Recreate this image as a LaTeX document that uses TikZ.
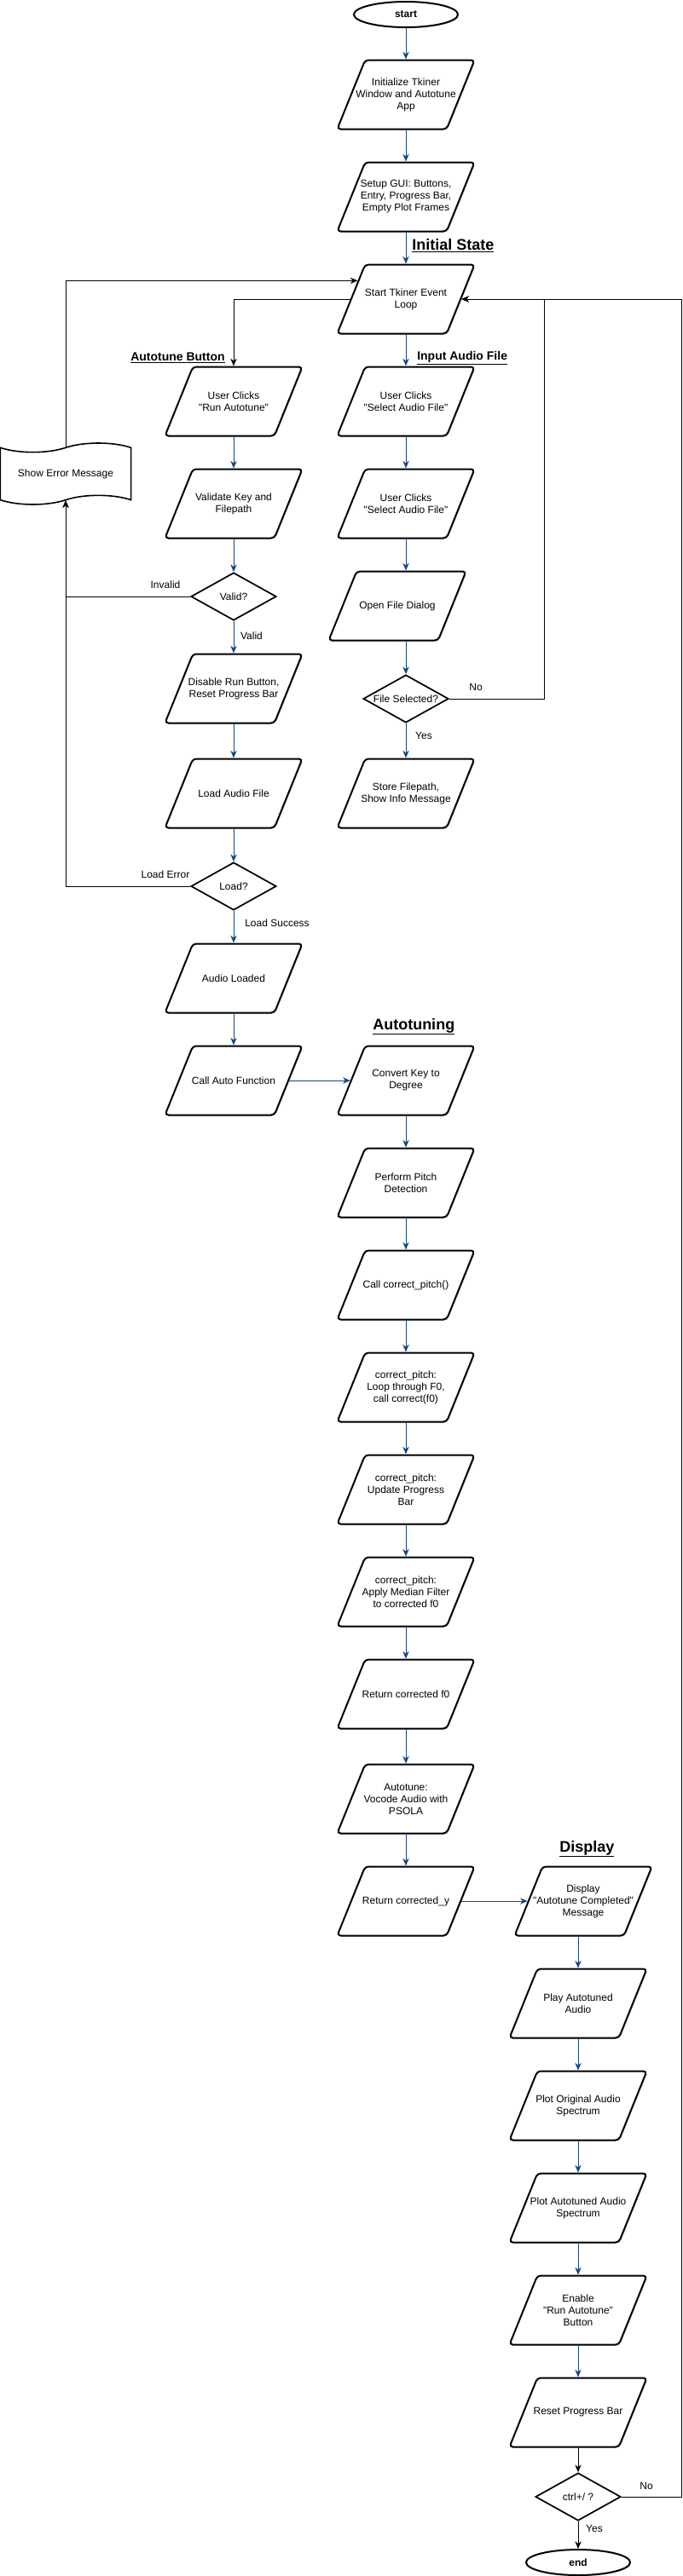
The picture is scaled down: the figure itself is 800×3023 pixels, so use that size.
\documentclass[tikz,border=0pt]{standalone}
\usepackage{fontspec}
\setmainfont{Liberation Sans}
\usepackage{tikz}
\usetikzlibrary{arrows,arrows.meta,shapes,positioning,shadows}
\usepackage{xcolor}
\definecolor{flowblue}{RGB}{22,72,128}
\tikzstyle{io} = [trapezium, trapezium left angle=68, trapezium right angle=112, draw, line width=1.5pt, rounded corners=3pt, fill=white, inner xsep=35.85pt, inner ysep=0pt, font=\fontsize{9}{10.5}\selectfont, drop shadow={shadow xshift=1pt, shadow yshift=-1pt, opacity=0.25}]
\tikzstyle{decision} = [diamond, draw, line width=1.3pt, fill=white, minimum width=75pt, minimum height=42pt, inner sep=0pt, font=\fontsize{9}{10.5}\selectfont]
\tikzstyle{terminal} = [ellipse, draw, line width=1.5pt, fill=white, minimum width=91.5pt, minimum height=22.5pt, inner sep=0pt, font=\bfseries\fontsize{9}{10.5}\selectfont, drop shadow={shadow xshift=1pt, shadow yshift=-1pt, opacity=0.25}]
\tikzstyle{errmsg} = [tape, draw, line width=1.2pt, fill=white, minimum width=115pt, minimum height=54pt, tape bend height=8pt, font=\fontsize{9}{10.5}\selectfont]
\tikzstyle{arrow} = [line width=0.75pt,->,>={Stealth[length=6.5pt,width=5.5pt,inset=2pt]},color=flowblue]
\tikzstyle{plain} = [line width=0.75pt,->,>={Stealth[length=6.5pt,width=5.5pt,inset=2pt]},color=black]
\tikzstyle{lbl} = [font=\fontsize{9}{10.5}\selectfont]
\tikzstyle{bighead} = [anchor=base west, inner sep=0pt, font=\bfseries\fontsize{13.5}{16}\selectfont]
\tikzstyle{smallhead} = [anchor=base west, inner sep=0pt, font=\bfseries\fontsize{10.5}{12.5}\selectfont]
\newcommand{\dtext}[1]{\makebox[0pt]{#1}}
\newcommand{\iotext}[1]{\makebox[0pt]{\parbox[c][60.75pt][c]{130pt}{\centering #1}}}
\newcommand{\qq}[1]{\textquotedbl#1\textquotedbl}

\begin{document}
\begin{tikzpicture}[x=0.75pt, y=-0.75pt]
\useasboundingbox (0,0) rectangle (800,3023);

% Initial state
\node[terminal] (start) at (476,17) {start};
\node[io] (init) at (476,111) {\iotext{Initialize Tkiner\\Window and Autotune\\App}};
\node[io] (setup) at (476,231) {\iotext{Setup GUI: Buttons,\\Entry, Progress Bar,\\Empty Plot Frames}};
\node[bighead] (hinit) at (483,293) {\underline{Initial State}};
\node[io] (loop) at (476,351) {\iotext{Start Tkiner Event\\Loop}};
\draw[arrow] (start.south) -- (init.north);
\draw[arrow] (init.south) -- (setup.north);
\draw[arrow] (setup.south) -- (loop.north);

% Autotune button
\node[smallhead] (hbtn) at (153,423) {\underline{Autotune Button}};
\node[io] (runat) at (274,471) {\iotext{User Clicks\\\qq{Run Autotune}}};
\node[io] (validate) at (274,591) {\iotext{Validate Key and\\Filepath}};
\node[decision] (valid) at (274,700) {\dtext{Valid?}};
\node[io] (disable) at (274,808) {\iotext{Disable Run Button,\\Reset Progress Bar}};
\node[io] (loadfile) at (274,931) {\iotext{Load Audio File}};
\node[decision] (load) at (274,1040) {\dtext{Load?}};
\node[io] (loaded) at (274,1148) {\iotext{Audio Loaded}};
\node[io] (callauto) at (274,1268) {\iotext{Call Auto Function}};
\draw[plain] (loop.west) -| (runat.north);
\draw[arrow] (runat.south) -- (validate.north);
\draw[arrow] (validate.south) -- (valid.north);
\draw[arrow] (valid.south) -- (disable.north);
\draw[arrow] (disable.south) -- (loadfile.north);
\draw[arrow] (loadfile.south) -- (load.north);
\draw[arrow] (load.south) -- (loaded.north);
\draw[arrow] (loaded.south) -- (callauto.north);
\node[lbl] (tvalid) at (295,746) {Valid};
\node[lbl] (tinvalid) at (194,686) {Invalid};
\node[lbl] (tloaderr) at (194,1026) {Load Error};
\node[lbl] (tloadok) at (325,1083) {Load Success};

% Error message
\node[errmsg] (err) at (77,556) {Show Error Message};
\draw[plain] (valid.west) -| (err.south);
\draw[plain] (load.west) -| (err.south);
\draw[plain] (err.north) |- (loop.159);

% Input audio file
\node[smallhead] (hfile) at (489,422) {\underline{Input Audio File}};
\node[io] (selA) at (476,471) {\iotext{User Clicks\\\qq{Select Audio File}}};
\node[io] (selB) at (476,591) {\iotext{User Clicks\\\qq{Select Audio File}}};
\node[io] (openfd) at (466,711) {\iotext{Open File Dialog}};
\node[decision] (filesel) at (476,820) {\dtext{File Selected?}};
\node[io] (store) at (476,931) {\iotext{Store Filepath,\\Show Info Message}};
\draw[arrow] (loop.south) -- (selA.north);
\draw[arrow] (selA.south) -- (selB.north);
\draw[arrow] (selB.south) -- (selB.south |- openfd.north);
\draw[arrow] (openfd.south -| filesel.north) -- (filesel.north);
\draw[arrow] (filesel.south) -- (store.north);
\draw[plain] (filesel.east) -- ++(112,0) |- (loop.east);
\node[lbl] (tno) at (558,806) {No};
\node[lbl] (tyes) at (497,863) {Yes};

% Autotuning
\node[bighead] (htune) at (437,1208) {\underline{Autotuning}};
\node[io] (convert) at (476,1268) {\iotext{Convert Key to\\Degree}};
\node[io] (pitch) at (476,1388) {\iotext{Perform Pitch\\Detection}};
\node[io] (callcp) at (476,1508) {\iotext{Call correct\_pitch()}};
\node[io] (cploop) at (476,1628) {\iotext{correct\_pitch:\\Loop through F0,\\call correct(f0)}};
\node[io] (cpbar) at (476,1748) {\iotext{correct\_pitch:\\Update Progress\\Bar}};
\node[io] (cpmed) at (476,1868) {\iotext{correct\_pitch:\\Apply Median Filter\\to corrected f0}};
\node[io] (retf0) at (476,1988) {\iotext{Return corrected f0}};
\node[io] (vocode) at (476,2111) {\iotext{Autotune:\\Vocode Audio with\\PSOLA}};
\node[io] (rety) at (476,2231) {\iotext{Return corrected\_y}};
\draw[arrow] (callauto.east) -- (convert.west);
\draw[arrow] (convert.south) -- (pitch.north);
\draw[arrow] (pitch.south) -- (callcp.north);
\draw[arrow] (callcp.south) -- (cploop.north);
\draw[arrow] (cploop.south) -- (cpbar.north);
\draw[arrow] (cpbar.south) -- (cpmed.north);
\draw[arrow] (cpmed.south) -- (retf0.north);
\draw[arrow] (retf0.south) -- (vocode.north);
\draw[arrow] (vocode.south) -- (rety.north);

% Display
\node[bighead] (hdisp) at (656,2173) {\underline{Display}};
\node[io] (dispmsg) at (684,2231) {\iotext{Display\\\qq{Autotune Completed}\\Message}};
\node[io] (play) at (678,2351) {\iotext{Play Autotuned\\Audio}};
\node[io] (plotorig) at (678,2471) {\iotext{Plot Original Audio\\Spectrum}};
\node[io] (plotauto) at (678,2591) {\iotext{Plot Autotuned Audio\\Spectrum}};
\node[io] (enable) at (678,2711) {\iotext{Enable\\\qq{Run Autotune}\\Button}};
\node[io] (reset) at (678,2831) {\iotext{Reset Progress Bar}};
\node[decision] (ctrl) at (678,2930) {\dtext{ctrl+/ ?}};
\node[terminal] (end) at (678,3007) {end};
\draw[arrow] (rety.east) -- (dispmsg.west);
\draw[arrow] (dispmsg.south -| play.north) -- (play.north);
\draw[arrow] (play.south) -- (plotorig.north);
\draw[arrow] (plotorig.south) -- (plotauto.north);
\draw[arrow] (plotauto.south) -- (enable.north);
\draw[arrow] (enable.south) -- (reset.north);
\draw[plain] (reset.south) -- (ctrl.north);
\draw[plain] (ctrl.south) -- (end.north);
\draw[plain] (ctrl.east) -- ++(71,0) |- (loop.east);
\node[lbl] (tno2) at (758,2917) {No};
\node[lbl] (tyes2) at (697,2967) {Yes};
\end{tikzpicture}
\end{document}
